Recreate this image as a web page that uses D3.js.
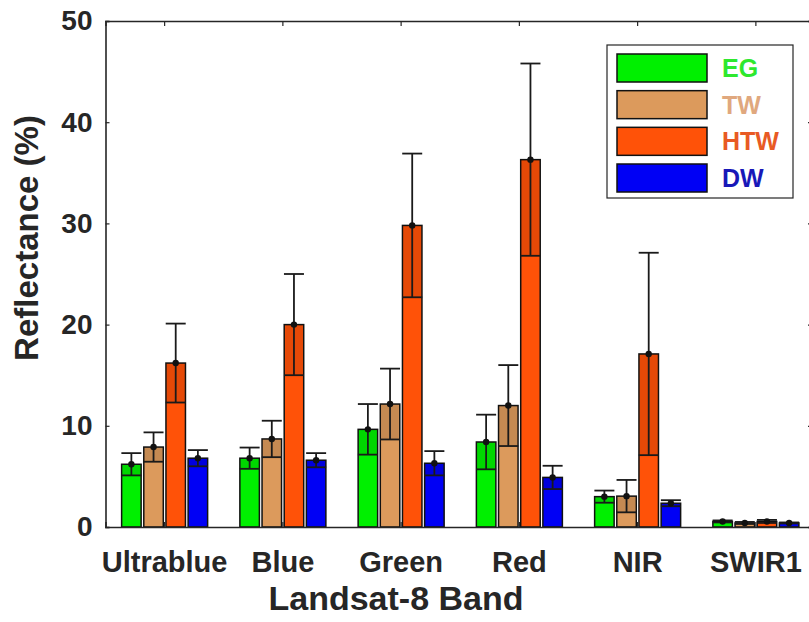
<!DOCTYPE html>
<html>
<head>
<meta charset="utf-8">
<script src="https://cdn.jsdelivr.net/npm/d3@7"></script>
<style>
  body { margin: 0; background: #fff; overflow: hidden; }
  svg { display: block; font-family: "Liberation Sans", Arial, sans-serif; font-weight: bold; }
</style>
</head>
<body>
<script>
var svgWidth = 809;
var svgHeight = 622;

// data
var bands = ["Ultrablue", "Blue", "Green", "Red", "NIR", "SWIR1"];
var seriesNames = ["EG", "TW", "HTW", "DW"];
var egMean  = [6.2, 6.8, 9.65, 8.4, 3.0, 0.55];
var egSd    = [1.1, 1.05, 2.5, 2.7, 0.6, 0.1];
var twMean  = [7.9, 8.7, 12.15, 12.0, 3.05, 0.4];
var twSd    = [1.45, 1.8, 3.5, 4.0, 1.6, 0.1];
var htwMean = [16.2, 20.0, 29.8, 36.3, 17.1, 0.55];
var htwSd   = [3.9, 5.0, 7.1, 9.5, 10.0, 0.15];
var dwMean  = [6.8, 6.6, 6.3, 4.9, 2.35, 0.4];
var dwSd    = [0.8, 0.7, 1.2, 1.15, 0.3, 0.05];
var yTicks  = [0, 10, 20, 30, 40, 50];

var means = [egMean, twMean, htwMean, dwMean];
var sds = [egSd, twSd, htwSd, dwSd];
var fills = ["#00f000", "#dc9a5c", "#ff5208", "#0000f5"];
var textColors = ["#2ee82e", "#e0a87e", "#e85a24", "#1818b8"];

var Margins = { top: 21, left: 105.5, right: 815, bot: 527 };
var ink = "#262626";

var svg = d3.select("body")
  .append("svg")
  .attr("width", svgWidth)
  .attr("height", svgHeight);

var xBand = d3.scaleBand()
  .domain(bands)
  .range([Margins.left, Margins.right])
  .paddingInner(0)
  .paddingOuter(0);

var xInner = d3.scaleBand()
  .domain(seriesNames)
  .range([-43, 43])
  .paddingInner(0.12);

var yScale = d3.scaleLinear()
  .domain([0, 50])
  .range([Margins.bot, Margins.top]);

// rows for bars
var rows = [];
bands.forEach(function(b, i) {
  seriesNames.forEach(function(s, j) {
    rows.push({ band: b, name: s, k: j, mean: means[j][i], sd: sds[j][i] });
  });
});

var barGroup = svg.append("g");

barGroup.selectAll(".bar")
  .data(rows)
  .enter()
  .append("rect")
  .attr("class", "bar")
  .attr("x", d => xBand(d.band) + xBand.bandwidth() / 2 + xInner(d.name))
  .attr("y", d => yScale(d.mean))
  .attr("width", xInner.bandwidth())
  .attr("height", d => yScale(0) - yScale(d.mean))
  .attr("fill", d => fills[d.k])
  .attr("stroke", "#111")
  .attr("stroke-width", 1.5);

// slight shading between lower error and mean
barGroup.selectAll(".shade")
  .data(rows)
  .enter()
  .append("rect")
  .attr("x", d => xBand(d.band) + xBand.bandwidth() / 2 + xInner(d.name) + 1)
  .attr("y", d => yScale(d.mean))
  .attr("width", xInner.bandwidth() - 2)
  .attr("height", d => yScale(Math.max(0, d.mean - d.sd)) - yScale(d.mean))
  .attr("fill", "#000")
  .attr("opacity", 0.1);

var errGroup = svg.append("g").attr("stroke", "#1a1a1a").attr("stroke-width", 1.8);
var cx = d => xBand(d.band) + xBand.bandwidth() / 2 + xInner(d.name) + xInner.bandwidth() / 2;
var capHalf = 10;

errGroup.selectAll(".vline")
  .data(rows)
  .enter()
  .append("line")
  .attr("x1", cx).attr("x2", cx)
  .attr("y1", d => yScale(Math.max(0, d.mean - d.sd)))
  .attr("y2", d => yScale(d.mean + d.sd));

errGroup.selectAll(".capTop")
  .data(rows)
  .enter()
  .append("line")
  .attr("x1", d => cx(d) - capHalf).attr("x2", d => cx(d) + capHalf)
  .attr("y1", d => yScale(d.mean + d.sd))
  .attr("y2", d => yScale(d.mean + d.sd));

errGroup.selectAll(".capBot")
  .data(rows)
  .enter()
  .append("line")
  .attr("x1", d => cx(d) - capHalf).attr("x2", d => cx(d) + capHalf)
  .attr("y1", d => yScale(Math.max(0, d.mean - d.sd)))
  .attr("y2", d => yScale(Math.max(0, d.mean - d.sd)));

svg.append("g").selectAll("circle")
  .data(rows)
  .enter()
  .append("circle")
  .attr("cx", cx)
  .attr("cy", d => yScale(d.mean))
  .attr("r", 3.2)
  .attr("fill", "#111");

// axes box with inward ticks
var LeftAxe = d3.axisLeft(yScale).tickValues(yTicks).tickSize(-4).tickPadding(13);
var RightAxe = d3.axisRight(yScale).tickValues(yTicks).tickSize(-7).tickFormat("");
var BotAxe = d3.axisBottom(xBand).tickSize(-5).tickPadding(24);
var TopAxe = d3.axisTop(xBand).tickSize(-5).tickFormat("");

function styleAxis(g, fs) {
  g.selectAll("path").attr("stroke", ink).attr("stroke-width", 1.6);
  g.selectAll("line").attr("stroke", ink).attr("stroke-width", 1.2);
  g.selectAll("text").attr("fill", ink).style("font-size", fs + "px").style("font-weight", "bold");
}

svg.append("g")
  .attr("transform", `translate(${Margins.left},0)`)
  .call(LeftAxe)
  .call(g => styleAxis(g, 28));

svg.append("g")
  .attr("transform", `translate(${Margins.right},0)`)
  .call(RightAxe)
  .call(g => styleAxis(g, 28));

svg.append("g")
  .attr("transform", `translate(0,${Margins.bot})`)
  .call(BotAxe)
  .call(g => styleAxis(g, 29));

svg.append("g")
  .attr("transform", `translate(0,${Margins.top})`)
  .call(TopAxe)
  .call(g => styleAxis(g, 28));

svg.append("text")
  .attr("transform", "rotate(-90)")
  .attr("x", -238)
  .attr("y", 38)
  .style("text-anchor", "middle")
  .style("font-size", "33px")
  .attr("fill", ink)
  .text("Reflectance (%)");

svg.append("text")
  .attr("x", 396)
  .attr("y", 610)
  .style("text-anchor", "middle")
  .style("font-size", "34px")
  .attr("fill", ink)
  .text("Landsat-8 Band");

// legend
var legend = svg.append("g");
legend.append("rect")
  .attr("x", 607).attr("y", 45)
  .attr("width", 186).attr("height", 153)
  .attr("fill", "#fff")
  .attr("stroke", ink)
  .attr("stroke-width", 1.2);

var legendY = d3.scalePoint().domain(seriesNames).range([68, 178]);

legend.selectAll(".sw")
  .data(seriesNames)
  .enter()
  .append("rect")
  .attr("x", 617)
  .attr("y", d => legendY(d) - 14)
  .attr("width", 90)
  .attr("height", 28)
  .attr("fill", (d, i) => fills[i])
  .attr("stroke", "#111")
  .attr("stroke-width", 1.5);

legend.selectAll(".lt")
  .data(seriesNames)
  .enter()
  .append("text")
  .attr("x", 722)
  .attr("y", d => legendY(d))
  .attr("dy", "0.36em")
  .style("font-size", "25px")
  .attr("fill", (d, i) => textColors[i])
  .text(d => d);
</script>
</body>
</html>
